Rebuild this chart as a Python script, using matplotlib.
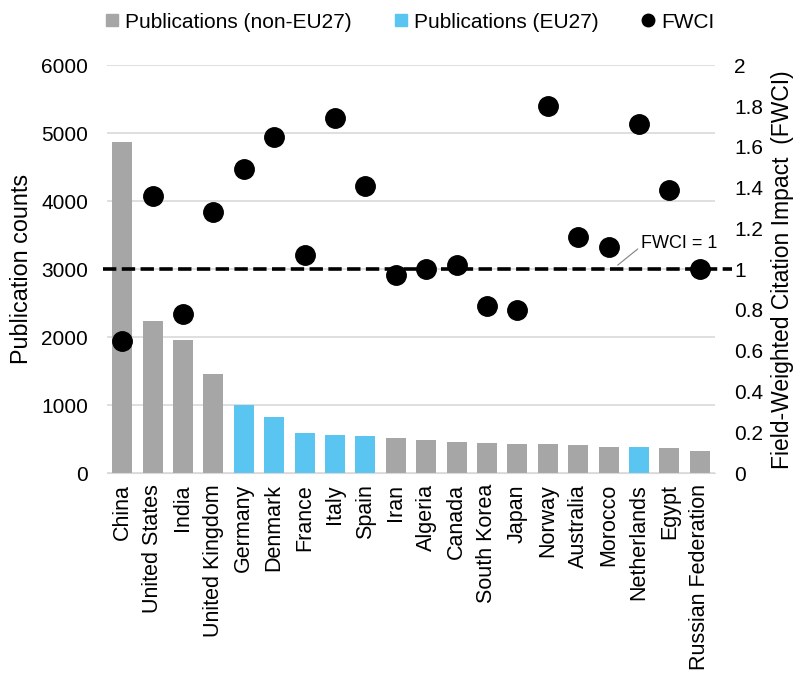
import matplotlib.pyplot as plt
import numpy as np
from matplotlib.lines import Line2D

plt.rcParams['font.family'] = ['Liberation Sans', 'DejaVu Sans']

countries = ["China", "United States", "India", "United Kingdom", "Germany", "Denmark",
             "France", "Italy", "Spain", "Iran", "Algeria", "Canada", "South Korea", "Japan",
             "Norway", "Australia", "Morocco", "Netherlands", "Egypt", "Russian Federation"]
publications = [4870, 2235, 1965, 1465, 1000, 830, 595, 560, 545, 510, 480, 460,
                442, 427, 427, 412, 378, 378, 363, 330]
eu27 = [False, False, False, False, True, True, True, True, True, False, False, False,
        False, False, False, False, False, True, False, False]
fwci = [0.65, 1.36, 0.78, 1.28, 1.49, 1.65, 1.07, 1.74, 1.41, 0.97, 1.0, 1.02,
        0.82, 0.80, 1.80, 1.16, 1.11, 1.71, 1.39, 1.0]

grey = '#A6A6A6'
blue = '#5BC5F2'

fig = plt.figure(figsize=(7.98, 6.73), dpi=100)
ax = fig.add_axes([0.134, 0.297, 0.762, 0.606])
ax2 = ax.twinx()

x = np.arange(len(countries))
colors = [blue if e else grey for e in eu27]
ax.bar(x, publications, width=0.66, color=colors, zorder=2)
ax.set_ylim(0, 6000)
ax.set_yticks(range(0, 6001, 1000))
ax.set_xlim(-0.5, len(countries) - 0.5)
ax.set_xticks(x)
ax.set_xticklabels(countries, rotation=90, fontsize=15.5)
ax.tick_params(axis='x', length=0, pad=8)
ax.tick_params(axis='y', length=0, labelsize=15, pad=13.5)
ax.yaxis.grid(True, color='#D9D9D9', linewidth=1.2, zorder=0)
ax.set_axisbelow(True)
for s in ['top', 'left', 'right']:
    ax.spines[s].set_visible(False)
ax.spines['bottom'].set_color('#D9D9D9')
ax.set_ylabel("Publication counts", fontsize=16.8, labelpad=6)

ax2.plot(x, fwci, 'o', color='black', markersize=14, zorder=4)
ax2.axhline(1, color='black', linestyle=(0, (3.7, 1.5)), linewidth=2.6, zorder=3,
            xmin=-0.007, xmax=1.028, clip_on=False)
ax2.set_ylim(0, 2)
ax2.set_yticks([0, 0.2, 0.4, 0.6, 0.8, 1, 1.2, 1.4, 1.6, 1.8, 2])
ax2.set_yticklabels(['0', '0.2', '0.4', '0.6', '0.8', '1', '1.2', '1.4', '1.6', '1.8', '2'])
ax2.tick_params(axis='y', length=0, labelsize=15, pad=14)
for s in ax2.spines.values():
    s.set_visible(False)
ax2.set_ylabel("Field-Weighted Citation Impact  (FWCI)", fontsize=16.5, labelpad=5)

ax2.annotate("FWCI = 1", xy=(16.3, 1.02), xytext=(17.05, 1.127), fontsize=13,
             va='center', ha='left',
             arrowprops=dict(arrowstyle='-', color='#808080', linewidth=0.8,
                             shrinkA=0, shrinkB=0, relpos=(0, 0.3)))

handles = [Line2D([], [], marker='s', linestyle='', color=grey, markersize=9),
           Line2D([], [], marker='s', linestyle='', color=blue, markersize=9),
           Line2D([], [], marker='o', linestyle='', color='black', markersize=9)]
fig.legend(handles, ["Publications (non-EU27)", "Publications (EU27)", "FWCI"],
           loc='center', bbox_to_anchor=(0.51, 0.967), ncol=3, frameon=False,
           fontsize=15, handletextpad=0.0, columnspacing=1.8, handlelength=1.2)

fig.savefig("out.png", dpi=100)
